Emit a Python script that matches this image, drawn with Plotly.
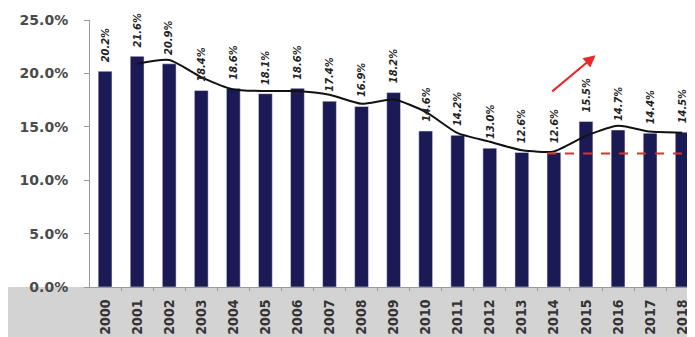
import plotly.graph_objects as go

years = [str(y) for y in range(2000, 2019)]
values = [20.2, 21.6, 20.9, 18.4, 18.6, 18.1, 18.6, 17.4, 16.9, 18.2,
          14.6, 14.2, 13.0, 12.6, 12.6, 15.5, 14.7, 14.4, 14.5]
labels = ["20.2%", "21.6%", "20.9%", "18.4%", "18.6%", "18.1%", "18.6%", "17.4%", "16.9%", "18.2%",
          "14.6%", "14.2%", "13.0%", "12.6%", "12.6%", "15.5%", "14.7%", "14.4%", "14.5%"]
trend_years = [str(y) for y in range(2001, 2019)]
trend_values = [20.9, 21.25, 19.65, 18.5, 18.35, 18.35, 18.0, 17.15, 17.55, 16.4,
                14.4, 13.6, 12.8, 12.7, 14.15, 15.1, 14.55, 14.45]
ref_start, ref_end, ref_level = "2014", "2018", 12.5
y_ticks = [0, 5, 10, 15, 20, 25]
y_tick_text = ["0.0%", "5.0%", "10.0%", "15.0%", "20.0%", "25.0%"]

BAR_W = 0.43
fig = go.Figure()
fig.add_trace(go.Bar(
    x=years, y=values, width=BAR_W,
    marker=dict(color="#1c1a55"),
))
fig.add_trace(go.Scatter(
    x=trend_years, y=trend_values, mode="lines",
    line=dict(color="#111111", width=2, shape="spline", smoothing=0.6),
))
for i, (v, lab) in enumerate(zip(values, labels)):
    fig.add_annotation(
        x=i, y=v, xref="x", yref="y", text=lab, showarrow=False, textangle=-90,
        xanchor="center", yanchor="bottom", yshift=7,
        font=dict(family="DejaVu Sans Condensed", size=11, color="#222222",
                  style="italic", weight="bold"),
    )
fig.add_shape(
    type="line", xref="x", yref="y",
    x0=years.index(ref_start) - BAR_W / 2, x1=years.index(ref_end) + BAR_W / 2,
    y0=ref_level, y1=ref_level,
    line=dict(color="#e0302a", width=2, dash="dash"),
)
fig.add_annotation(
    x=15.3, y=21.7, ax=13.9, ay=18.2, xref="x", yref="y", axref="x", ayref="y",
    showarrow=True, arrowhead=2, arrowsize=1.2, arrowwidth=2, arrowcolor="#e8282a", text="",
)
# faded grey backdrop behind the year labels (the original has a photo there)
fig.add_shape(
    type="rect", xref="paper", yref="paper", x0=-0.14, x1=1.0, y0=-0.19, y1=0,
    fillcolor="#d3d3d3", line=dict(width=0), layer="below",
)

# the page body has an 8px margin, so the figure is offset by 8px
fig.update_layout(
    width=687, height=329,
    margin=dict(l=82, r=0, t=12, b=50, autoexpand=False),
    paper_bgcolor="white", plot_bgcolor="white",
    showlegend=False,
    xaxis=dict(
        type="category", range=[-0.47, 18.4], automargin=False,
        tickangle=-90, showgrid=False,
        showline=True, linecolor="#9a9a9a", linewidth=1,
        ticks="outside", ticklen=3, tickcolor="#9a9a9a", tickson="boundaries",
        ticklabelstandoff=6,
        tickfont=dict(family="DejaVu Sans Condensed", size=14, color="#333333", weight="bold"),
    ),
    yaxis=dict(
        range=[0, 25], tickvals=y_ticks, ticktext=y_tick_text, automargin=False,
        showgrid=False, zeroline=False,
        showline=True, linecolor="#9a9a9a", linewidth=1,
        ticks="outside", ticklen=5, tickcolor="#9a9a9a", ticklabelstandoff=13,
        tickfont=dict(family="DejaVu Sans", size=14, color="#4a4a4a", weight="bold"),
    ),
)

fig.write_html("out.html")
